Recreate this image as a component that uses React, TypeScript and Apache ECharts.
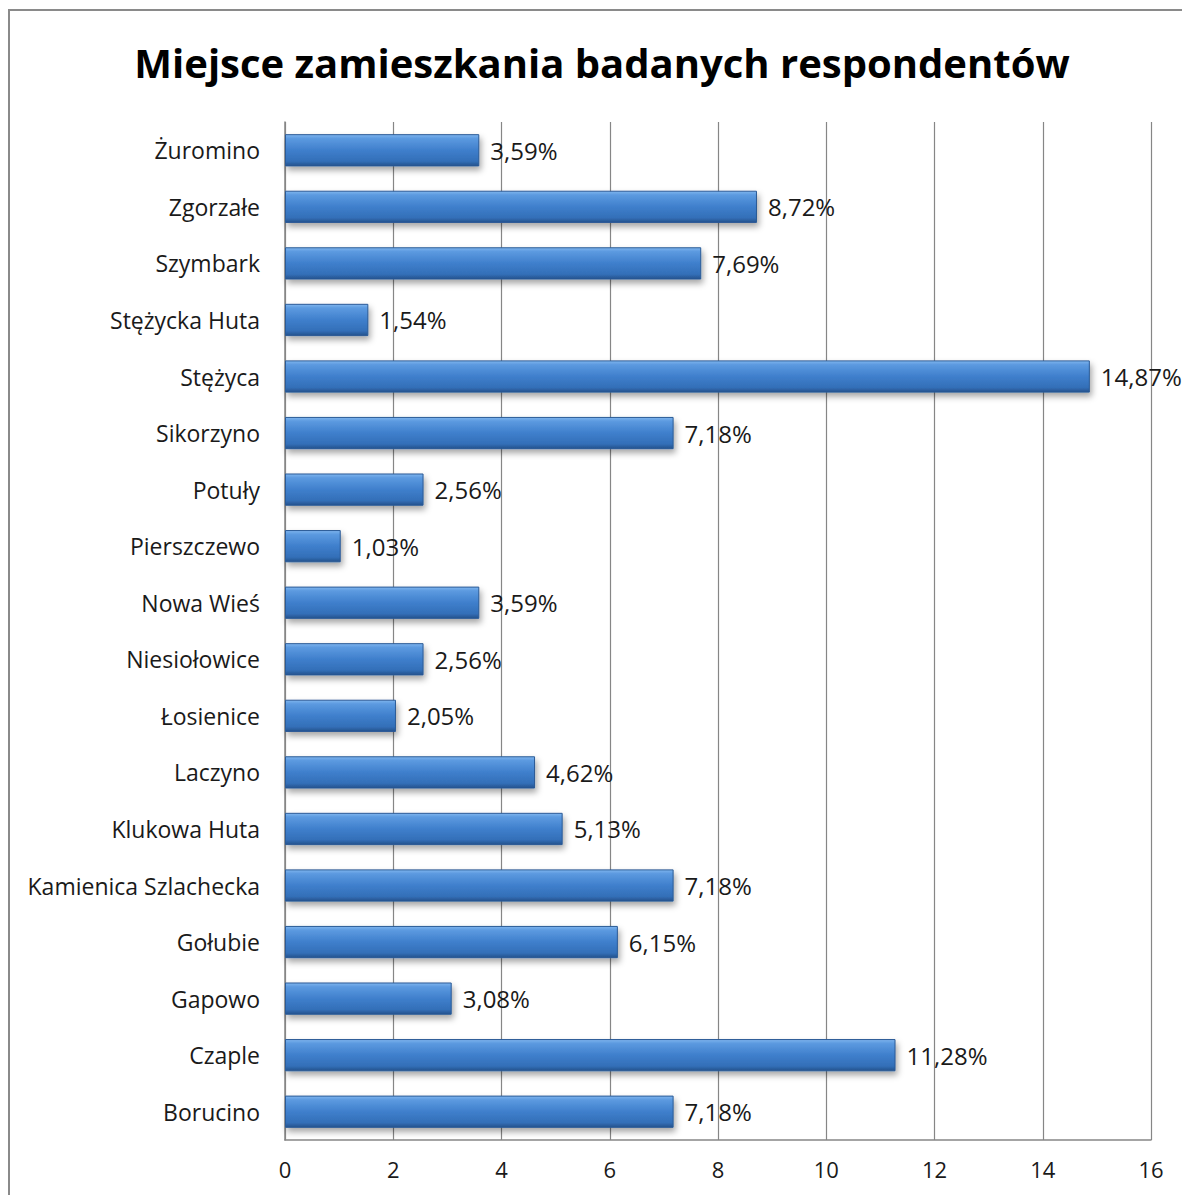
import React, { useEffect, useRef } from "react";
import * as echarts from "echarts";

const categories = [
  "Żuromino",
  "Zgorzałe",
  "Szymbark",
  "Stężycka Huta",
  "Stężyca",
  "Sikorzyno",
  "Potuły",
  "Pierszczewo",
  "Nowa Wieś",
  "Niesiołowice",
  "Łosienice",
  "Laczyno",
  "Klukowa Huta",
  "Kamienica Szlachecka",
  "Gołubie",
  "Gapowo",
  "Czaple",
  "Borucino",
];

const values = [
  3.59, 8.72, 7.69, 1.54, 14.87, 7.18, 2.56, 1.03, 3.59, 2.56, 2.05, 4.62, 5.13,
  7.18, 6.15, 3.08, 11.28, 7.18,
];

const xTicks = [0, 2, 4, 6, 8, 10, 12, 14, 16];

const title = "Miejsce zamieszkania badanych respondentów";

export default function App() {
  const ref = useRef<HTMLDivElement>(null);

  useEffect(() => {
    if (!ref.current) return;
    const chart = echarts.init(ref.current, null, { renderer: "svg" });
    const font = "'Open Sans', 'Noto Sans', sans-serif";
    chart.setOption({
      animation: false,
      backgroundColor: "#ffffff",
      graphic: [
        {
          type: "text",
          x: 602,
          y: 62,
          style: {
            text: title,
            fontFamily: font,
            fontSize: 40,
            fontWeight: "bold",
            fill: "#000000",
            textAlign: "center",
            textVerticalAlign: "middle",
          },
          silent: true,
        },
        {
          type: "rect",
          shape: { x: 9, y: 10, width: 1300, height: 1300 },
          style: { fill: "none", stroke: "#8a8a8a", lineWidth: 2 },
          silent: true,
          z: 100,
        },
      ],
      grid: { left: 285, right: 31, top: 122, bottom: 55 },
      xAxis: {
        type: "value",
        min: xTicks[0],
        max: xTicks[xTicks.length - 1],
        interval: 2,
        axisLine: { show: true, lineStyle: { color: "#868686", width: 1.5 } },
        axisTick: { show: false },
        axisLabel: {
          fontFamily: font,
          fontSize: 22,
          color: "#1a1a1a",
          margin: 18,
        },
        splitLine: { show: true, lineStyle: { color: "#868686", width: 1.2 } },
      },
      yAxis: {
        type: "category",
        data: categories,
        inverse: true,
        axisLine: { show: true, lineStyle: { color: "#868686", width: 1.5 } },
        axisTick: { show: false },
        axisLabel: {
          fontFamily: font,
          fontSize: 23,
          color: "#1a1a1a",
          margin: 25,
        },
      },
      series: [
        {
          type: "bar",
          data: values,
          barCategoryGap: "43%",
          itemStyle: {
            color: new echarts.graphic.LinearGradient(0, 0, 0, 1, [
              { offset: 0, color: "#7fb5ee" },
              { offset: 0.12, color: "#5c9ae0" },
              { offset: 0.5, color: "#3f7fcc" },
              { offset: 0.85, color: "#336fb8" },
              { offset: 1, color: "#25528c" },
            ]),
            borderColor: "#2a5a96",
            borderWidth: 1,
            shadowColor: "rgba(0,0,0,0.35)",
            shadowBlur: 6,
            shadowOffsetX: 2,
            shadowOffsetY: 4,
          },
          label: {
            show: true,
            position: "right",
            distance: 11,
            fontFamily: font,
            fontSize: 24,
            color: "#1a1a1a",
            formatter: (p: any) => p.value.toFixed(2).replace(".", ",") + "%",
          },
        },
      ],
    });
    return () => chart.dispose();
  }, []);

  return (
    <div
      ref={ref}
      style={{ position: "fixed", left: 0, top: 0, width: 1182, height: 1195 }}
    />
  );
}
